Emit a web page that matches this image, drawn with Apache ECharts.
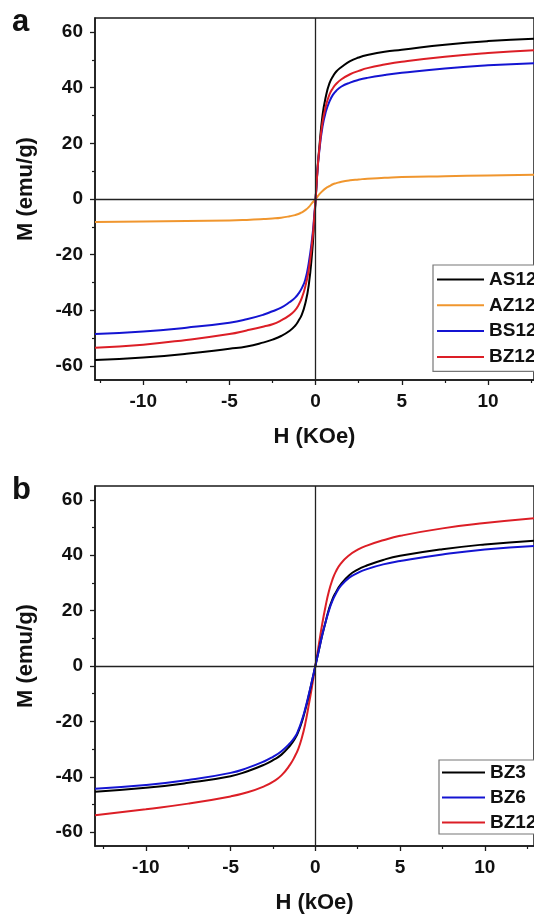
<!DOCTYPE html>
<html>
<head>
<meta charset="utf-8">
<script src="https://cdn.jsdelivr.net/npm/echarts@6/dist/echarts.min.js"></script>
<style>
html,body{margin:0;padding:0;background:#fff;}
#c{width:534px;height:915px;}
</style>
</head>
<body>
<div id="c"></div>
<script>
// ---- tick values ----
const xTicks = [-10, -5, 0, 5, 10];
const xMinor = [-12.5, -7.5, -2.5, 2.5, 7.5, 12.5];
const yTicks = [-60, -40, -20, 0, 20, 40, 60];
const yMinor = [-50, -30, -10, 10, 30, 50];

// ---- panel a: field values (kOe) and magnetization (emu/g) ----
const hA = [-12.8,-10,-7.5,-5,-4,-3,-2.5,-2,-1.5,-1.2,-1,-0.8,-0.6,-0.4,-0.2,-0.1,0,0.1,0.2,0.4,0.6,0.8,1,1.2,1.5,2,2.5,3,4,5,7.5,10,12.7];
const mAS12 = [-57.8,-56.9,-55.6,-53.8,-53.0,-51.5,-50.5,-49.2,-47.3,-45.6,-43.8,-41.5,-37.5,-31,-19,-10,0,10,17.5,30,37,41.5,44,45.8,47.4,49.5,50.8,51.7,52.9,53.6,55.4,56.7,57.6];
const mAZ12 = [-8.3,-8.1,-7.9,-7.7,-7.5,-7.2,-7.0,-6.7,-6.2,-5.8,-5.4,-4.8,-4.0,-2.9,-1.4,-0.7,0,0.8,1.6,2.9,3.9,4.6,5.3,5.7,6.2,6.7,7.0,7.3,7.6,7.9,8.2,8.45,8.7];
const mBS12 = [-48.5,-47.6,-46.2,-44.4,-43.2,-41.5,-40.3,-39.0,-37.0,-35.5,-34.0,-32.0,-29.0,-23.0,-14.0,-7.5,0,9.5,16.5,26,31.5,35,37.4,38.9,40.4,41.8,42.8,43.5,44.5,45.3,46.9,48.0,48.8];
const mBZ12a = [-53.4,-52.3,-50.6,-48.5,-47.2,-45.8,-45.0,-43.6,-41.7,-40.0,-38.2,-35.5,-31.5,-25.5,-15.5,-8.5,0,9.5,17,27.5,33.5,37.5,39.8,41.4,43,44.8,46,47,48.3,49.3,51.1,52.4,53.4];

// ---- panel b ----
const hB = [-13,-10,-7.5,-5,-4,-3,-2.5,-2,-1.5,-1.2,-1,-0.8,-0.6,-0.4,-0.2,0,0.2,0.4,0.6,0.8,1,1.2,1.5,2,2.5,3,4,5,7.5,10,13];
const mBZ3 = [-45.4,-44.0,-42.2,-39.8,-38.0,-35.6,-34.0,-32.0,-28.8,-26.2,-23.7,-20.3,-16.0,-11.0,-5.5,0,5.5,11,15.8,20.5,24,26.5,29.5,32.8,34.8,36.2,38.3,39.8,42.2,43.9,45.3];
const mBZ6 = [-44.3,-43.0,-41.2,-38.6,-36.8,-34.4,-32.8,-30.8,-27.9,-25.6,-23.1,-19.7,-15.5,-10.6,-5.4,0,5.5,11,15.8,20,23.4,26,28.9,31.9,33.6,34.9,36.7,37.9,40.3,42.1,43.4];
const mBZ12b = [-53.9,-51.7,-49.7,-47.1,-45.6,-43.4,-41.8,-39.5,-35.7,-32.5,-29.8,-26.0,-21.0,-14.5,-7.5,0,7.5,15,21.5,27,31,34,37,40,42,43.4,45.4,47,49.7,51.6,53.4];

const legendA = ['AS12', 'AZ12', 'BS12', 'BZ12'];
const legendB = ['BZ3', 'BZ6', 'BZ12'];

const FONT = '"Liberation Sans", Arial, sans-serif';
const zip = (h, m) => h.map((v, i) => [v, m[i]]);

function majorX(grid, min, max, name) {
  return {
    type: 'value', gridIndex: grid, position: 'bottom', min: min, max: max,
    axisLine: { show: true, onZero: false, lineStyle: { color: '#1a1a1a', width: 1.5 } },
    axisTick: { show: true, customValues: xTicks, length: 5, lineStyle: { color: '#1a1a1a', width: 1.3 } },
    axisLabel: { show: true, customValues: xTicks, margin: 12, color: '#111', fontSize: 19, fontWeight: 'bold', fontFamily: FONT },
    splitLine: { show: false },
    name: name, nameLocation: 'middle', nameGap: 46,
    nameTextStyle: { color: '#111', fontSize: 22, fontWeight: 'bold', fontFamily: FONT }
  };
}
function minorX(grid, min, max) {
  return {
    type: 'value', gridIndex: grid, position: 'bottom', min: min, max: max,
    axisLine: { show: false, onZero: false },
    axisTick: { show: true, customValues: xMinor, length: 3, lineStyle: { color: '#1a1a1a', width: 1.2 } },
    axisLabel: { show: false }, splitLine: { show: false }
  };
}
function majorY(grid) {
  return {
    type: 'value', gridIndex: grid, position: 'left', min: -65, max: 65,
    axisLine: { show: true, onZero: false, lineStyle: { color: '#1a1a1a', width: 1.5 } },
    axisTick: { show: true, customValues: yTicks, length: 5, lineStyle: { color: '#1a1a1a', width: 1.3 } },
    axisLabel: { show: true, customValues: yTicks, margin: 12, color: '#111', fontSize: 19, fontWeight: 'bold', fontFamily: FONT },
    splitLine: { show: false },
    name: 'M (emu/g)', nameLocation: 'middle', nameGap: 58, nameRotate: 90,
    nameTextStyle: { color: '#111', fontSize: 22, fontWeight: 'bold', fontFamily: FONT, padding: [0, 0, 0, 20] }
  };
}
function minorY(grid) {
  return {
    type: 'value', gridIndex: grid, position: 'left', min: -65, max: 65,
    axisLine: { show: false, onZero: false },
    axisTick: { show: true, customValues: yMinor, length: 3, lineStyle: { color: '#1a1a1a', width: 1.2 } },
    axisLabel: { show: false }, splitLine: { show: false }
  };
}
function curve(name, xi, yi, h, m, color, z) {
  return {
    name: name, type: 'line', xAxisIndex: xi, yAxisIndex: yi,
    data: zip(h, m), showSymbol: false, symbol: 'none',
    smooth: 0.5, z: z,
    lineStyle: { color: color, width: 2 }, itemStyle: { color: color },
    emphasis: { disabled: true }
  };
}
function zeroLines(xi, yi) {
  return {
    type: 'line', xAxisIndex: xi, yAxisIndex: yi, data: [[0, 0]], symbol: 'none',
    lineStyle: { opacity: 0 }, z: 1, silent: true,
    markLine: {
      silent: true, symbol: 'none', label: { show: false }, animation: false,
      lineStyle: { color: '#222', width: 1.3, type: 'solid' },
      data: [{ xAxis: 0 }, { yAxis: 0 }]
    }
  };
}

const BLACK = '#000000', ORANGE = '#f0962e', BLUE = '#1414d2', RED = '#dc1e26';

const option = {
  animation: false,
  backgroundColor: '#ffffff',
  grid: [
    { left: 95, top: 18, width: 450, height: 362, show: true, borderColor: '#1a1a1a', borderWidth: 1.5, containLabel: false },
    { left: 95, top: 486, width: 450, height: 362, show: true, borderColor: '#1a1a1a', borderWidth: 1.5, containLabel: false }
  ],
  xAxis: [
    majorX(0, -12.8, 12.67, 'H (KOe)'), minorX(0, -12.8, 12.67),
    majorX(1, -13, 12.9, 'H (kOe)'), minorX(1, -13, 12.9)
  ],
  yAxis: [majorY(0), minorY(0), majorY(1), minorY(1)],
  legend: [
    {
      data: legendA, orient: 'vertical', left: 433, top: 265,
      icon: 'rect', itemWidth: 47, itemHeight: 2, itemGap: 6.8,
      padding: [5, 40, 5, 4], borderColor: '#777', borderWidth: 1.2, backgroundColor: '#fff',
      textStyle: { color: '#111', fontSize: 19, fontWeight: 'bold', fontFamily: FONT },
      selectedMode: false
    },
    {
      data: legendB, orient: 'vertical', left: 439, top: 760,
      icon: 'rect', itemWidth: 43, itemHeight: 2, itemGap: 6,
      padding: [3, 40, 2, 3], borderColor: '#777', borderWidth: 1.2, backgroundColor: '#fff',
      textStyle: { color: '#111', fontSize: 19, fontWeight: 'bold', fontFamily: FONT },
      selectedMode: false
    }
  ],
  graphic: [
    { type: 'text', x: 12, y: 22.5, style: { text: 'a', font: 'bold 31px ' + FONT, fill: '#111', align: 'left', verticalAlign: 'middle' } },
    { type: 'text', x: 12, y: 490.5, style: { text: 'b', font: 'bold 31px ' + FONT, fill: '#111', align: 'left', verticalAlign: 'middle' } }
  ],
  series: [
    zeroLines(0, 0),
    curve('AS12', 0, 0, hA, mAS12, BLACK, 2),
    curve('AZ12', 0, 0, hA, mAZ12, ORANGE, 2),
    curve('BS12', 0, 0, hA, mBS12, BLUE, 2),
    curve('BZ12', 0, 0, hA, mBZ12a, RED, 3),
    zeroLines(2, 2),
    curve('BZ12', 2, 2, hB, mBZ12b, RED, 2),
    curve('BZ3', 2, 2, hB, mBZ3, BLACK, 2),
    curve('BZ6', 2, 2, hB, mBZ6, BLUE, 3)
  ]
};

const chart = echarts.init(document.getElementById('c'), null, { renderer: 'canvas' });
chart.setOption(option);
</script>
</body>
</html>
